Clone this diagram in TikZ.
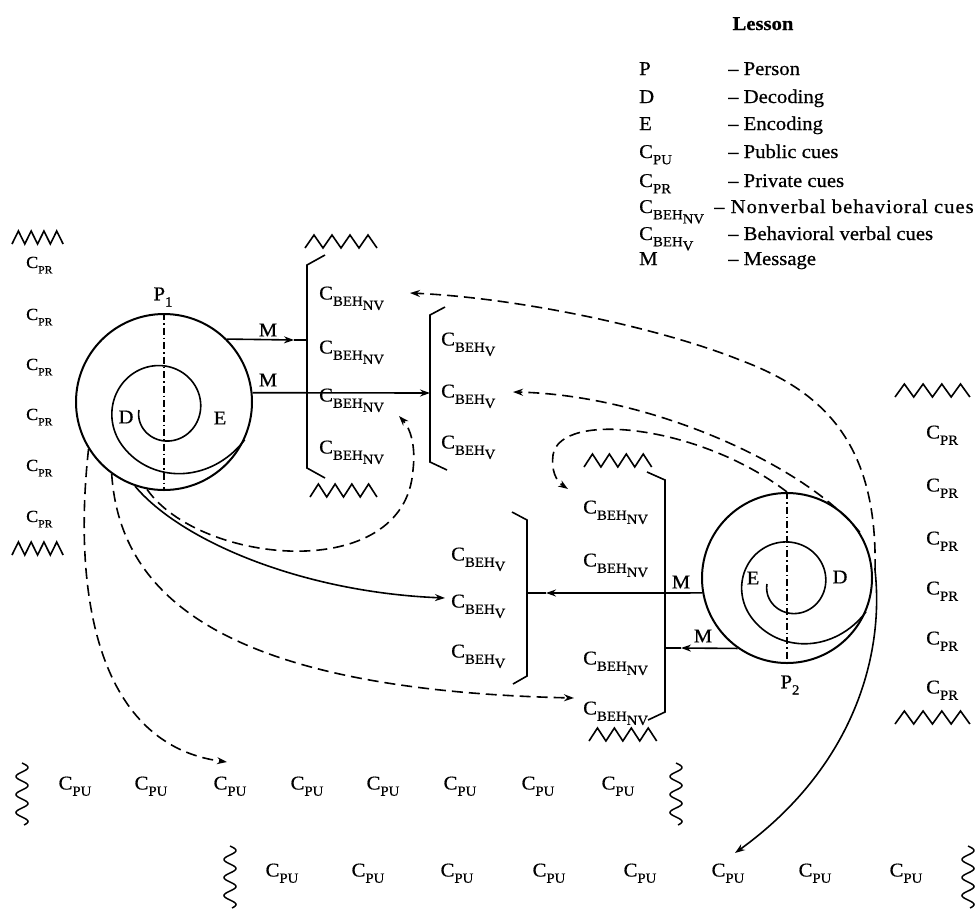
\documentclass[tikz,border=0pt]{standalone}
\usepackage{fontspec}
\setmainfont{Liberation Serif}[FakeStretch=1.06, FakeBold=0.6]
\usetikzlibrary{arrows.meta}

% cue symbols: C with lowered small-capital subscripts
\newcommand\subtxt[2]{\raisebox{-0.32em}{\fontsize{#1}{#1}\selectfont #2}}
\newcommand\cpr{C\subtxt{14}{PR}}
\newcommand\cprs{C\subtxt{11}{PR}}
\newcommand\cpu{C\subtxt{14}{PU}}
\newcommand\cnv{C\subtxt{14}{BEH\raisebox{-0.3em}{NV}}}
\newcommand\cvb{C\subtxt{14}{BEH\raisebox{-0.3em}{V}}}
\newcommand\pers[1]{P\subtxt{14}{#1}}

\begin{document}
\begin{tikzpicture}[x=1pt, y=-1pt,
  txt/.style={inner sep=1pt, font=\fontsize{19.5}{22}\selectfont},
  smalltxt/.style={inner sep=1pt, font=\fontsize{17}{19}\selectfont},
  ln/.style={line width=1.6pt},
  dsh/.style={line width=1.6pt, dash pattern=on 11pt off 6pt},
  tip/.style={-{Stealth[length=10pt,width=7pt]}},
  ring/.style={draw, circle, line width=2pt, inner sep=0pt},
  axis/.style={line width=1.3pt, dash pattern=on 7pt off 3pt on 1.5pt off 3pt},
  zigzag/.pic={\draw[line width=1.6pt, line join=miter]
    (0,13) -- (9,0) -- (18,13) -- (27,0) -- (36,13) -- (45,0) -- (54,13) -- (63,0) -- (72,13);},
  wavy/.pic={\draw[line width=1.5pt]
    plot[domain=0:62, samples=90, smooth, variable=\u] ({6*sin(\u*20)}, \u);}
]
\fill[white] (0,0) rectangle (977,914);
\path[use as bounding box] (0,0) rectangle (977,914);

% ---------- key ----------
\node[txt, font=\fontsize{19.5}{22}\selectfont\bfseries, anchor=base] (title) at (763,30) {Lesson};
\node[txt, anchor=base west] (kP) at (638,75) {P};
\node[txt, anchor=base west] (kPt) at (727,75) {-- Person};
\node[txt, anchor=base west] (kD) at (638,103) {D};
\node[txt, anchor=base west] (kDt) at (727,103) {-- Decoding};
\node[txt, anchor=base west] (kE) at (638,130) {E};
\node[txt, anchor=base west] (kEt) at (727,130) {-- Encoding};
\node[txt, anchor=base west] (kPU) at (638,158) {\cpu};
\node[txt, anchor=base west] (kPUt) at (727,158) {-- Public cues};
\node[txt, anchor=base west] (kPR) at (638,187) {\cpr};
\node[txt, anchor=base west] (kPRt) at (727,187) {-- Private cues};
\node[txt, anchor=base west] (kNV) at (638,213) {\cnv};
\node[txt, anchor=base west] (kNVt) at (713,213) {\addfontfeature{LetterSpace=5}-- Nonverbal behavioral cues};
\node[txt, anchor=base west] (kV) at (638,240) {\cvb};
\node[txt, anchor=base west] (kVt) at (727,240) {-- Behavioral verbal cues};
\node[txt, anchor=base west] (kM) at (638,265) {M};
\node[txt, anchor=base west] (kMt) at (727,265) {-- Message};

% ---------- private cues, left ----------
\pic[xscale=0.71] at (12,231) {zigzag};
\node[smalltxt, anchor=base west] (lp1) at (25,268) {\cprs};
\node[smalltxt, anchor=base west] (lp2) at (25,320) {\cprs};
\node[smalltxt, anchor=base west] (lp3) at (25,370) {\cprs};
\node[smalltxt, anchor=base west] (lp4) at (25,420) {\cprs};
\node[smalltxt, anchor=base west] (lp5) at (25,471) {\cprs};
\node[smalltxt, anchor=base west] (lp6) at (25,522) {\cprs};
\pic[xscale=0.71] at (12,542) {zigzag};

% ---------- private cues, right ----------
\pic[xscale=1.04] at (895,384) {zigzag};
\node[txt, anchor=base west] (rp1) at (925,438.5) {\cpr};
\node[txt, anchor=base west] (rp2) at (925,491.5) {\cpr};
\node[txt, anchor=base west] (rp3) at (925,544.5) {\cpr};
\node[txt, anchor=base west] (rp4) at (925,594.5) {\cpr};
\node[txt, anchor=base west] (rp5) at (925,644.5) {\cpr};
\node[txt, anchor=base west] (rp6) at (925,693.5) {\cpr};
\pic[xscale=1.04] at (895,711) {zigzag};

% ---------- nonverbal cues of P1 ----------
\pic at (305,235) {zigzag};
\draw[ln] (325,255) -- (307,265) -- (307,468) -- (325,478);
\node[txt, anchor=base west] (nv1) at (318,299.5) {\cnv};
\node[txt, anchor=base west] (nv2) at (318,353.5) {\cnv};
\node[txt, anchor=base west] (nv3) at (318,401.5) {\cnv};
\node[txt, anchor=base west] (nv4) at (318,453.5) {\cnv};
\pic[xscale=0.93] at (310,484) {zigzag};

% ---------- verbal cues of P1 ----------
\draw[ln] (445,307) -- (430,315) -- (430,462) -- (447,470);
\node[txt, anchor=base west] (cv1) at (440,345.5) {\cvb};
\node[txt, anchor=base west] (cv2) at (440,397.5) {\cvb};
\node[txt, anchor=base west] (cv3) at (440,448.5) {\cvb};

% ---------- verbal cues of P2 ----------
\draw[ln] (512,512) -- (527,520) -- (527,676) -- (513,684);
\node[txt, anchor=base west] (cv4) at (450,560.5) {\cvb};
\node[txt, anchor=base west] (cv5) at (450,607.5) {\cvb};
\node[txt, anchor=base west] (cv6) at (450,657.5) {\cvb};

% ---------- nonverbal cues of P2 ----------
\pic[xscale=0.94] at (584,454) {zigzag};
\draw[ln] (647,472) -- (665,480) -- (665,712) -- (648,720);
\node[txt, anchor=base west] (nv5) at (582,513.5) {\cnv};
\node[txt, anchor=base west] (nv6) at (582,566.5) {\cnv};
\node[txt, anchor=base west] (nv7) at (582,664.5) {\cnv};
\node[txt, anchor=base west] (nv8) at (582,714.5) {\cnv};
\pic[xscale=0.94] at (589,728) {zigzag};

% ---------- persons ----------
\node[ring, minimum size=176pt] (P1o) at (164,402) {};
\draw[axis] (P1o.north) -- (P1o.south);
\draw[ln] plot[domain=0:520, samples=160, smooth, variable=\t]
  ({163-(24+0.075*\t+0.00167*(max(\t-400,0))^2)*cos(\t)},
   {410+(24+0.075*\t+0.00167*(max(\t-400,0))^2)*sin(\t)});
\node[txt] (P1lab) at (163,297) {\pers{1}};
\node[txt] (D1) at (126,417) {D};
\node[txt] (E1) at (220,418) {E};

\node[ring, minimum size=170pt] (P2o) at (787,578) {};
\draw[axis] (P2o.north) -- (P2o.south);
\draw[ln] plot[domain=0:520, samples=160, smooth, variable=\t]
  ({790-(23+0.07*\t+0.0015*(max(\t-400,0))^2)*cos(\t)},
   {584+(23+0.07*\t+0.0015*(max(\t-400,0))^2)*sin(\t)});
\node[txt] (P2lab) at (790,685) {\pers{2}};
\node[txt] (E2) at (753,578) {E};
\node[txt] (D2) at (840,577) {D};

% ---------- messages ----------
\coordinate (m1tip) at (294,340);
\coordinate (m1end) at (307,340);
\draw[ln,tip] (P1o.45) -- (m1tip);
\draw[ln] (m1tip) -- (m1end);
\node[txt] (M1) at (268,330) {M};

\coordinate (m2end) at (430,393);
\draw[ln,tip] (P1o.6) -- (m2end);
\node[txt] (M2) at (268,380) {M};

\coordinate (m3tip) at (546,593);
\coordinate (m3end) at (527,593);
\draw[ln,tip] (P2o.190) -- (m3tip);
\draw[ln] (m3tip) -- (m3end);
\node[txt] (M3) at (681,582) {M};

\coordinate (m4tip) at (681,648);
\coordinate (m4end) at (665,648);
\draw[ln,tip] (P2o.235) -- (m4tip);
\draw[ln] (m4tip) -- (m4end);
\node[txt] (M4) at (703,636) {M};

% ---------- public cues ----------
\pic at (22,763) {wavy};
\node[txt, anchor=base] (pa1) at (75,789.5) {\cpu};
\node[txt, anchor=base] (pa2) at (151,789.5) {\cpu};
\node[txt, anchor=base] (pa3) at (230,789.5) {\cpu};
\node[txt, anchor=base] (pa4) at (307,789.5) {\cpu};
\node[txt, anchor=base] (pa5) at (383,789.5) {\cpu};
\node[txt, anchor=base] (pa6) at (460,789.5) {\cpu};
\node[txt, anchor=base] (pa7) at (538,789.5) {\cpu};
\node[txt, anchor=base] (pa8) at (618,789.5) {\cpu};
\pic at (676,763) {wavy};

\pic at (230,846) {wavy};
\node[txt, anchor=base] (pb1) at (282,876.5) {\cpu};
\node[txt, anchor=base] (pb2) at (368,876.5) {\cpu};
\node[txt, anchor=base] (pb3) at (457,876.5) {\cpu};
\node[txt, anchor=base] (pb4) at (549,876.5) {\cpu};
\node[txt, anchor=base] (pb5) at (640,876.5) {\cpu};
\node[txt, anchor=base] (pb6) at (728,876.5) {\cpu};
\node[txt, anchor=base] (pb7) at (815,876.5) {\cpu};
\node[txt, anchor=base] (pb8) at (906,876.5) {\cpu};
\pic at (968,846) {wavy};

% ---------- cue flows ----------
\coordinate (P2r) at (875,570);
\coordinate (tipA) at (410,293);
\coordinate (tipB) at (513,392);
\coordinate (tipL) at (568,489);
\coordinate (tipC) at (735,853);
\coordinate (tipPU) at (227,762);
\coordinate (tipN8) at (574,698);
\coordinate (tipV5) at (445,598);
\coordinate (tipN3) at (399,416);

% from P2
\draw[dsh,tip] (P2r) .. controls (878,440) and (820,390) .. (740,360)
  .. controls (660,328) and (520,298) .. (tipA);
\draw[dsh,tip] (P2o.32) .. controls (805,465) and (650,395) .. (tipB);
\draw[dsh,tip] (P2o.north) .. controls (700,425) and (560,410) .. (553,455)
  .. controls (551,470) and (556,481) .. (tipL);
\draw[ln,tip] (P2r) .. controls (885,660) and (850,770) .. (tipC);

% from P1
\draw[dsh,tip] (P1o.212) .. controls (72,600) and (100,745) .. (tipPU);
\draw[dsh,tip] (P1o.234) .. controls (120,600) and (230,690) .. (tipN8);
\draw[ln,tip] (P1o.251) .. controls (180,540) and (300,592) .. (tipV5);
\draw[dsh,tip] (P1o.259) .. controls (200,565) and (405,585) .. (413,470)
  .. controls (416,445) and (410,428) .. (tipN3);
\end{tikzpicture}
\end{document}
